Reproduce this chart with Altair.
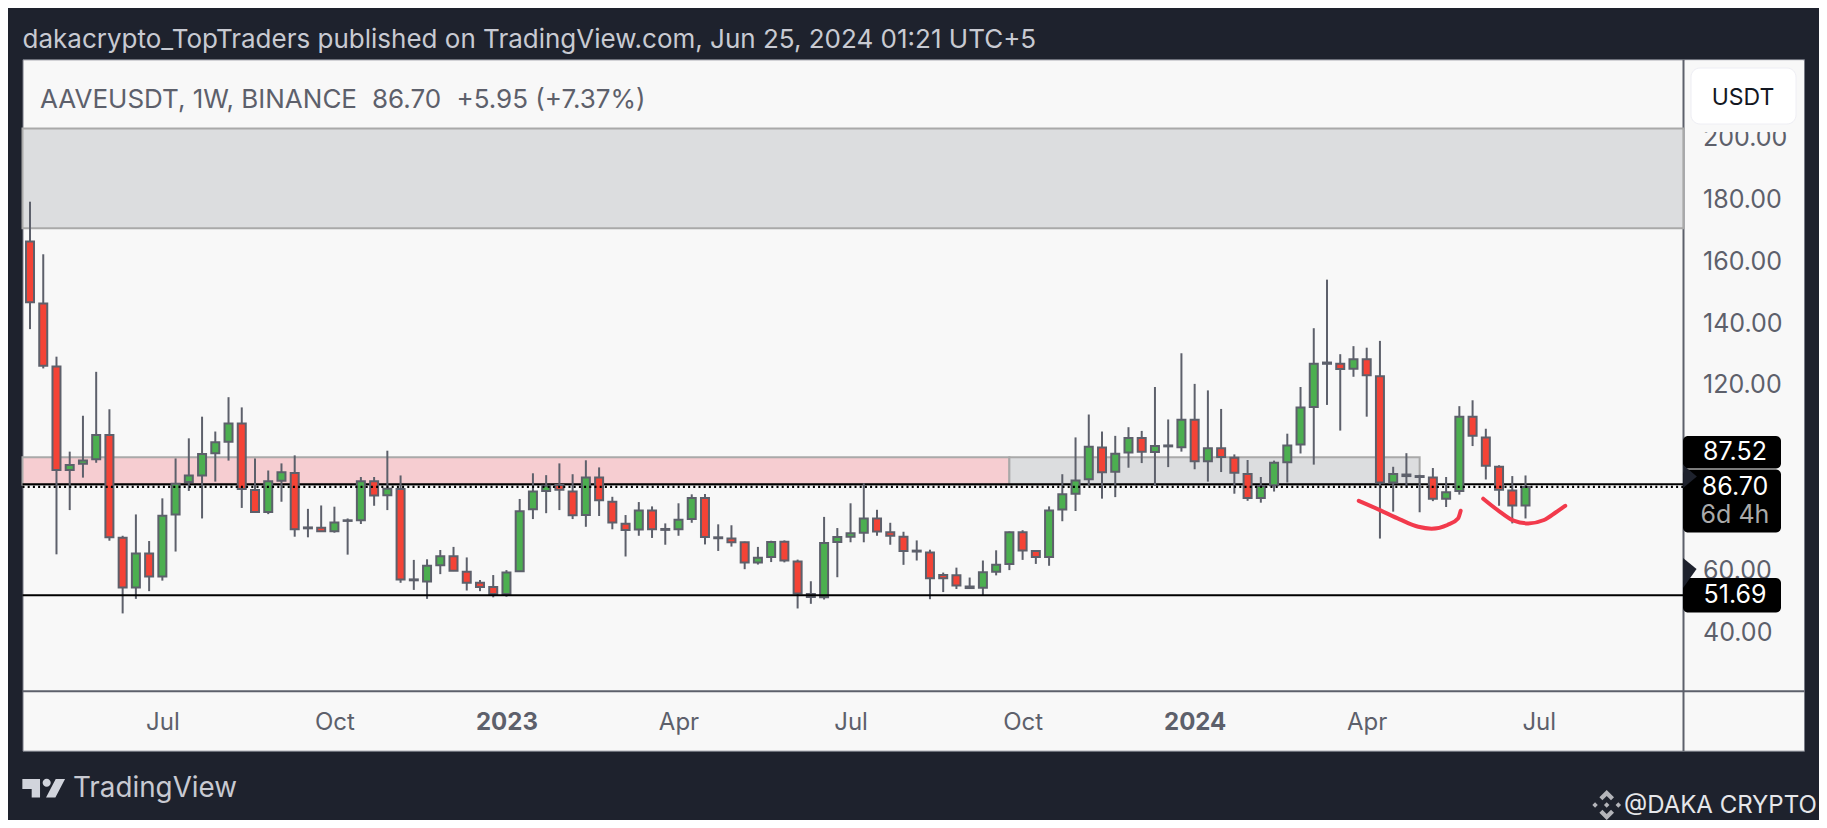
import altair as alt
import pandas as pd

high = [178.9,161.9,128.8,98.1,109.7,123.9,111.8,70.9,77.8,69.2,
83.0,95.9,102.4,109.4,104.6,115.7,112.4,95.9,92.0,94.3,
96.9,79.6,80.7,80.3,76.5,89.9,89.9,98.4,90.4,63.1,
63.3,66.3,67.3,63.9,56.6,58.2,59.8,82.8,91.1,90.5,
94.3,90.8,95.3,93.0,83.5,77.6,81.8,80.4,74.9,81.4,
84.3,84.4,74.6,74.3,69.0,67.3,69.3,69.4,63.2,56.2,
77.0,73.4,81.4,87.9,79.3,75.1,72.2,69.4,66.4,59.0,
60.6,57.4,62.9,66.2,72.3,72.7,66.2,80.4,90.8,102.7,
110.1,104.6,103.2,106.0,104.8,119.0,108.5,129.9,120.0,117.9,
111.9,97.2,95.4,89.9,95.2,103.9,119.0,138.0,153.7,129.6,
132.2,131.7,133.9,93.2,97.6,90.6,92.8,89.9,112.8,114.7,
105.5,93.7,90.2,90.4]
low = [137.7,125.0,64.9,79.2,89.7,94.5,69.3,45.8,50.5,53.0,
56.4,65.8,85.4,76.5,88.4,95.2,79.9,78.4,77.9,81.9,
70.6,70.4,72.3,71.9,64.8,74.7,80.6,79.2,55.7,53.4,
50.5,58.5,59.5,53.2,53.0,51.0,51.2,59.3,76.3,78.2,
79.2,76.3,73.8,77.3,73.0,64.2,70.9,70.2,68.0,70.9,
75.1,68.1,66.0,67.4,60.1,61.6,62.4,62.3,47.4,48.9,
50.3,57.5,68.8,68.8,70.9,68.0,61.5,62.9,50.4,52.7,
53.7,53.7,51.6,58.1,59.8,63.1,61.8,61.2,75.6,78.9,
87.2,82.9,83.4,92.9,94.4,87.1,93.1,98.1,92.4,88.4,
91.5,84.5,82.2,81.6,85.2,88.1,97.5,93.9,113.2,104.9,
122.3,109.4,70.0,78.7,86.4,78.5,82.1,80.2,84.2,99.9,
89.1,80.6,74.9,76.5]
open_ = [166.0,146.0,125.6,92.2,94.2,95.6,103.5,70.3,54.2,65.2,
57.7,77.8,88.3,90.4,97.6,101.3,107.2,85.7,78.6,88.7,
91.2,73.6,73.5,72.4,75.7,75.9,88.5,84.0,86.0,56.5,
56.1,61.4,64.3,59.3,55.7,54.3,52.1,59.4,79.5,85.4,
87.3,85.2,77.6,89.7,81.9,74.8,72.9,79.1,72.8,73.0,
76.3,83.1,70.4,70.0,68.8,62.3,64.0,69.0,62.6,52.1,
51.0,68.9,70.6,71.9,76.5,72.0,70.6,66.1,65.5,58.2,
58.1,54.5,54.1,59.3,61.8,72.0,66.0,64.0,79.4,84.5,
89.2,99.4,91.6,97.8,102.5,98.0,99.8,99.5,108.4,95.0,
99.2,96.1,90.9,83.1,87.2,94.7,100.4,112.5,126.5,126.5,
124.9,128.0,122.5,88.1,90.7,90.2,89.7,82.9,85.4,109.4,
102.7,93.2,85.5,80.7]
close = [146.4,125.9,92.2,93.8,95.2,103.5,70.4,54.2,65.2,57.7,
77.4,87.7,90.4,97.3,101.1,107.2,86.0,78.6,88.5,91.4,
73.0,73.3,72.4,75.2,75.9,88.5,83.9,86.1,56.8,56.8,
61.2,64.3,59.6,55.7,54.3,52.1,59.0,78.8,85.2,87.1,
85.8,77.5,89.7,82.4,75.2,72.8,79.1,73.0,73.1,76.1,
83.1,70.5,70.1,68.8,62.3,63.8,68.9,62.9,52.2,51.1,
68.6,70.5,71.7,76.5,72.3,70.9,66.0,65.8,57.2,57.2,
54.8,54.0,59.1,61.5,72.0,66.1,64.0,79.1,84.3,88.8,
99.7,91.4,97.4,102.5,98.1,99.9,100.1,108.4,95.0,99.2,
96.4,91.3,83.1,87.0,94.5,100.1,112.4,126.5,126.9,124.8,
128.0,122.8,88.1,90.9,90.2,89.9,82.9,85.0,109.4,103.2,
93.5,85.8,80.7,86.7]

first_week = "2022-04-25"
tick_dates = ["2022-07-04","2022-10-03","2023-01-02","2023-04-03","2023-07-03",
              "2023-10-02","2024-01-01","2024-04-01","2024-07-01"]
price_ticks = [40, 60, 120, 140, 160, 180, 200]

LEFT_END = "2022-04-21T00:40:00Z"
RIGHT_END = "2024-09-15T12:00:00Z"
zone_start = [LEFT_END, "2023-09-25T00:00:00Z", LEFT_END]
zone_end = ["2023-09-25T00:00:00Z", "2024-04-29T00:00:00Z", RIGHT_END]
zone_top = [96.3, 96.3, 202.6]
zone_bottom = [87.4, 87.4, 170.3]
zone_kind = ["pink", "gray", "gray"]

curve1_week = [100.4,102.0,103.5,104.9,105.9,107.1,107.9,108.1]
curve1_price = [82.2,79.2,76.2,73.8,73.2,74.4,76.5,79.0]
curve2_week = [109.8,110.9,112.1,113.2,114.4,115.3,116.0]
curve2_price = [82.9,79.2,75.8,74.9,76.0,78.5,80.6]

BG = "#1e222d"
PANEL = "#f8f8f8"
EDGE = "#5d606b"
RED = "#f44336"
GREEN = "#4caf50"
TEXT = "#5d606b"
FONT = "Inter"

def ms(s):
    return int(pd.Timestamp(s, tz="UTC").timestamp() * 1000)

def iso(ts):
    return ts.strftime("%Y-%m-%dT%H:%M:%SZ")

base = pd.Timestamp(first_week)
X0, Y0, X1, Y1 = 22.5, 59.3, 1804.0, 750.7
x_domain = [ms("2022-04-21T00:40:00"), ms("2024-11-18T07:00:00")]
y_domain = [1.42, 224.93]

x_axis = alt.Axis(
    orient="bottom", offset=-60, title=None, grid=False, ticks=False,
    values=[ms(d) for d in tick_dates],
    labelExpr="utcmonth(datum.value)==0 ? utcFormat(datum.value,'%Y') : utcFormat(datum.value,'%b')",
    labelFontWeight={"condition": {"test": "utcmonth(datum.value)==0", "value": "bold"}, "value": "normal"},
    labelFont=FONT, labelFontSize=24, labelColor=TEXT, labelPadding=20,
    labelOverlap=False, labelFlush=False, labelBound=False,
    domainColor=EDGE, domainWidth=2,
)
y_axis = alt.Axis(
    orient="right", offset=-121, title=None, grid=False, ticks=False,
    values=price_ticks, format=".2f",
    labelFont=FONT, labelFontSize=25, labelColor=TEXT, labelPadding=19.5,
    labelAlign="left", labelBaseline="middle", labelOffset=1,
    labelOverlap=False, labelFlush=False, labelBound=False,
    domainColor=EDGE, domainWidth=2,
)

def xe(f):
    return alt.X(f, type="temporal", scale=alt.Scale(type="utc", domain=x_domain, nice=False, padding=0), axis=x_axis)

def ye(f):
    return alt.Y(f, type="quantitative", scale=alt.Scale(domain=y_domain, nice=False, zero=False), axis=y_axis)

fill_scale = alt.Scale(domain=["pink", "gray", "up", "down"], range=["#f6cdd1", "#dcdddf", GREEN, RED])

dates = [iso(base + pd.Timedelta(days=7 * i)) for i in range(len(close))]
candles = pd.DataFrame({
    "date": dates, "open": open_, "close": close, "high": high, "low": low,
})
candles["top"] = candles[["open", "close"]].max(axis=1)
candles["bottom"] = candles[["open", "close"]].min(axis=1)
candles["dir"] = ["up" if c >= o else "down" for o, c in zip(open_, close)]

zones = pd.DataFrame({"s": zone_start, "e": zone_end, "t": zone_top, "b": zone_bottom, "k": zone_kind})
zone_layer = alt.Chart(zones).mark_rect(stroke="#a9a9a9", strokeWidth=2).encode(
    x=xe("s"), x2="e:T", y=ye("t"), y2="b:Q",
    fill=alt.Fill("k:N", scale=fill_scale, legend=None),
)

def hline(price, **kw):
    d = pd.DataFrame({"p": [price], "s": [LEFT_END], "e": [RIGHT_END]})
    return alt.Chart(d).mark_rule(color="#000000", **kw).encode(x=xe("s"), x2="e:T", y=ye("p"))

line_solid = hline(87.52, strokeWidth=2)
line_dot = hline(86.70, strokeWidth=2.2, strokeDash=[2, 3.2])
line_low = hline(51.69, strokeWidth=2)

wicks = alt.Chart(candles).mark_rule(color=EDGE, strokeWidth=2).encode(x=xe("date"), y=ye("high"), y2="low:Q")
bodies = alt.Chart(candles).mark_bar(size=8, stroke=EDGE, strokeWidth=2).encode(
    x=xe("date"), y=ye("top"), y2="bottom:Q",
    fill=alt.Fill("dir:N", scale=fill_scale, legend=None),
)

def curve(weeks, prices):
    d = pd.DataFrame({
        "d": [iso(base + pd.Timedelta(days=7 * w)) for w in weeks],
        "p": prices, "o": list(range(len(weeks))),
    })
    return alt.Chart(d).mark_line(color="#f23a4c", strokeWidth=4, interpolate="monotone", strokeCap="round").encode(
        x=xe("d"), y=ye("p"), order="o:Q")

def px(x):
    return alt.value(x - X0)

def py(y):
    return alt.value(y - Y0)

ONE = pd.DataFrame({"a": [1]})

def label(text, x, y, size, color, align="left", font=FONT, weight="normal"):
    d = pd.DataFrame({"t": [text]})
    return alt.Chart(d).mark_text(align=align, baseline="middle", fontSize=size, color=color, font=font, fontWeight=weight).encode(
        text="t:N", x=px(x), y=py(y))

def box(x0, x1, y0, y1, fill, radius=5, **kw):
    return alt.Chart(ONE).mark_rect(fill=fill, cornerRadius=radius, **kw).encode(
        x=px(x0), x2=px(x1), y=py(y0), y2=py(y1))

def shape(path, x, y, width, color):
    return alt.Chart(ONE).mark_point(shape=path, size=width * width, filled=True, color=color, opacity=1).encode(
        x=px(x), y=py(y))

TV_PATH = ("M-1,-.43L-.172,-.43L-.172,.43L-.5625,.43L-.5625,.039L-1,.039Z"
           "M-.05,-.258a.19,.19 0 1,0 .38,0a.19,.19 0 1,0 -.38,0Z"
           "M.5625,-.43L1,-.43L.547,.43L.109,.43Z")
BN_PATH = ("M0,-1.05L.51,-.535L.30,-.325L0,-.63L-.30,-.325L-.51,-.535Z"
           "M0,1.05L.51,.535L.30,.325L0,.63L-.30,.325L-.51,.535Z"
           "M0,-.19L.19,0L0,.19L-.19,0Z"
           "M-.81,-.19L-.62,0L-.81,.19L-1,0Z"
           "M.81,-.19L1,0L.81,.19L.62,0Z")
ARROW_A = "M-.6,-1L.6,0L-.6,1Z"
ARROW_B = "M-.45,-1L.45,-.27L-.45,1Z"

layers = [
    zone_layer, line_solid, wicks, bodies, line_dot, line_low,
    curve(curve1_week, curve1_price), curve(curve2_week, curve2_price),
    box(1685, 1803, 60.5, 132, PANEL, radius=0),
    box(1691, 1796, 68, 124, "#ffffff", radius=9, stroke="#eeeef4", strokeWidth=1),
    label("USDT", 1743, 98, 23, "#131722", align="center"),
    box(1683, 1781, 436, 468.5, "#000000"),
    box(1683, 1781, 469.5, 532.5, "#000000"),
    box(1683, 1781, 578, 612.5, "#000000"),
    shape(ARROW_A, 1690, 476.5, 23, BG),
    shape(ARROW_B, 1689.8, 573, 30, BG),
    label("87.52", 1735, 452, 25, "#ffffff", align="center"),
    label("86.70", 1735, 487, 25, "#ffffff", align="center"),
    label("6d 4h", 1735, 515, 25, "#aaaaaa", align="center"),
    label("51.69", 1735, 594.5, 25, "#ffffff", align="center"),
    label("dakacrypto_TopTraders published on TradingView.com, Jun 25, 2024 01:21 UTC+5", 22.5, 40, 26, "#c8cad2"),
    label("AAVEUSDT, 1W, BINANCE", 40, 100, 26, TEXT),
    label("86.70", 372, 100, 26, TEXT),
    label("+5.95 (+7.37%)", 456.5, 100, 26, TEXT),
    label("TradingView", 73, 789, 27.8, "#c8cad2"),
    label("@DAKA CRYPTO", 1624, 806, 24, "#e6e7ea"),
    shape(TV_PATH, 43.7, 788.2, 42.7, "#d1d4dc"),
    shape(BN_PATH, 1606.7, 805, 28.7, "#b4b5ba"),
]

chart = alt.layer(*layers).properties(
    width=X1 - X0,
    height=Y1 - Y0,
    background=BG,
    autosize=alt.AutoSizeParams(type="none"),
    padding={"left": X0 - 8, "top": Y0 - 8, "right": 1811 - (X1 - 8), "bottom": 812 - (Y1 - 8)},
).configure_view(fill=PANEL, stroke="#787b86", strokeWidth=1)

chart.save("out.html", embed_options={"renderer": "svg", "actions": False})
